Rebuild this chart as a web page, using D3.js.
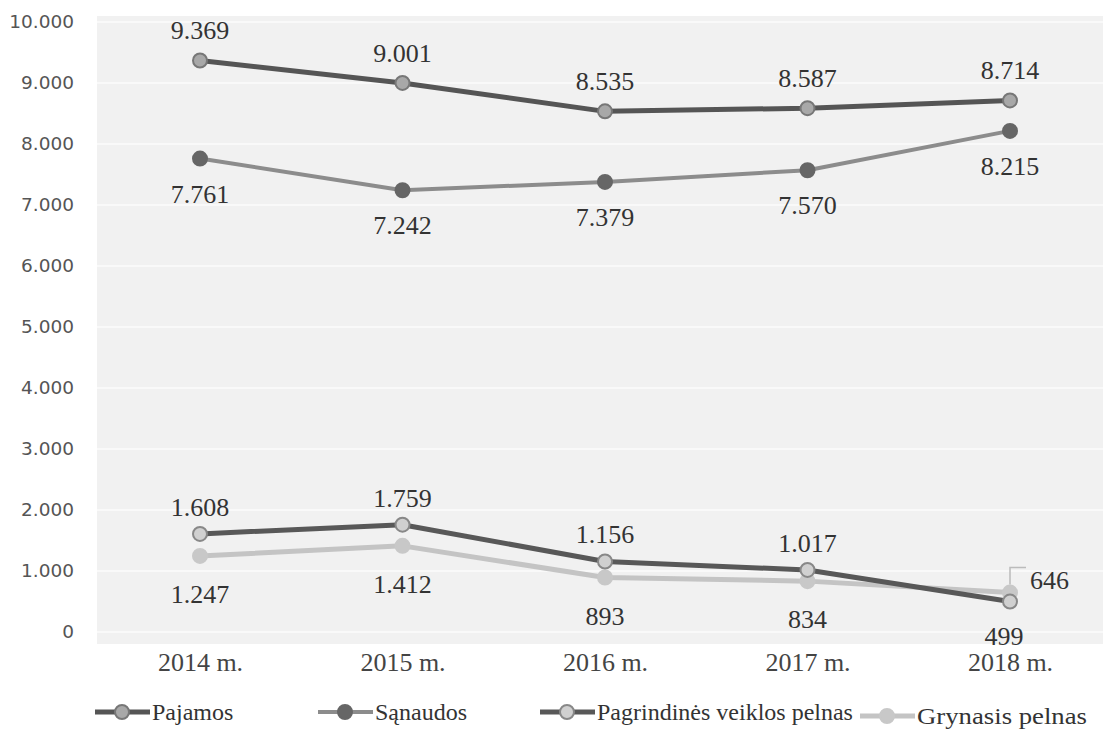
<!DOCTYPE html>
<html><head><meta charset="utf-8">
<script src="https://cdn.jsdelivr.net/npm/d3@7"></script>
<style>body{margin:0;background:#fff}svg{display:block}</style>
</head><body>
<svg id="c" width="1103" height="739"></svg>
<script>
const categories = ["2014 m.","2015 m.","2016 m.","2017 m.","2018 m."];
const pajamos = [9369, 9001, 8535, 8587, 8714];
const sanaudos = [7761, 7242, 7379, 7570, 8215];
const pagrindines = [1608, 1759, 1156, 1017, 499];
const grynasis = [1247, 1412, 893, 834, 646];
const yTicks = [0,1000,2000,3000,4000,5000,6000,7000,8000,9000,10000];
const seriesNames = ["Pajamos","Sąnaudos","Pagrindinės veiklos pelnas","Grynasis pelnas"];

const SERIF = "'Liberation Serif', 'Times New Roman', serif";
const SANS = "'DejaVu Sans', Verdana, sans-serif";
const fmt = v => { const s = String(v); return s.length > 3 ? s.slice(0, s.length-3) + "." + s.slice(-3) : s; };

const svg = d3.select("#c");
const x = d3.scalePoint().domain(categories).range([200, 1010]);
const y = d3.scaleLinear().domain([0, 10000]).range([632, 22]);

svg.append("rect").attr("x", 97).attr("y", 16).attr("width", 1006).attr("height", 628).attr("fill", "#f1f1f1");
svg.append("g").selectAll("line").data(yTicks).join("line")
  .attr("x1", 97).attr("x2", 1103).attr("y1", d => y(d)).attr("y2", d => y(d))
  .attr("stroke", "#f9f9f9").attr("stroke-width", 2);

const yAxis = d3.axisLeft(y).tickValues(yTicks).tickFormat(fmt).tickSize(0).tickPadding(0);
const ya = svg.append("g").attr("transform", "translate(74,0)").call(yAxis);
ya.select(".domain").remove();
ya.selectAll("text").style("font-family", SANS).style("font-size", "18.5px").attr("fill", "#555");

const xAxis = d3.axisBottom(x).tickSize(0).tickPadding(0);
const xa = svg.append("g").attr("transform", "translate(0,653)").call(xAxis);
xa.select(".domain").remove();
xa.selectAll("text").style("font-family", SERIF).style("font-size", "26px").attr("fill", "#444");

const series = [
  {name: seriesNames[0], data: pajamos, line: "#555", lw: 5, mfill: "#a8a8a8", mstroke: "#777", pos: "above"},
  {name: seriesNames[1], data: sanaudos, line: "#8c8c8c", lw: 4, mfill: "#666", mstroke: "#666", pos: "below"},
  {name: seriesNames[2], data: pagrindines, line: "#585858", lw: 5, mfill: "#d0d0d0", mstroke: "#888", pos: "above"},
  {name: seriesNames[3], data: grynasis, line: "#c4c4c4", lw: 5, mfill: "#c8c8c8", mstroke: "#c8c8c8", pos: "below"}
];

const line = d3.line().x((d,i) => x(categories[i])).y(d => y(d));
const drawOrder = [3,1,0,2];
drawOrder.forEach(si => {
  const s = series[si];
  svg.append("path").datum(s.data).attr("d", line).attr("fill", "none")
    .attr("stroke", s.line).attr("stroke-width", s.lw).attr("stroke-linejoin", "round");
});
drawOrder.forEach(si => {
  const s = series[si];
  svg.append("g").selectAll("circle").data(s.data).join("circle")
    .attr("cx", (d,i) => x(categories[i])).attr("cy", d => y(d)).attr("r", 7)
    .attr("fill", s.mfill).attr("stroke", s.mstroke).attr("stroke-width", 2);
});

// data labels
const lab = svg.append("g");
series.forEach((s, si) => {
  s.data.forEach((v, i) => {
    let tx = x(categories[i]), ty;
    if (s.pos === "above") ty = y(v) - (si === 0 ? 21 : 18);
    else ty = y(v) + (si === 1 ? 44 : 47);
    let anchor = "middle";
    if (si === 3 && i === 4) { tx = x(categories[i]) + 20; ty = y(v) - 4; anchor = "start"; }
    if (si === 2 && i === 4) { tx = x(categories[i]) - 6; ty = y(v) + 43; }
    lab.append("text").attr("x", tx).attr("y", ty).attr("text-anchor", anchor)
      .style("font-family", SERIF).style("font-size", "26px").attr("fill", "#333").text(fmt(v));
  });
});
// leader line for 646
const gx = x(categories[4]), gy = y(grynasis[4]);
svg.append("path").attr("d", `M${gx},${gy-8}V${gy-25}H${gx+16}`).attr("fill", "none")
  .attr("stroke", "#bbb").attr("stroke-width", 1.5);

// legend
const legX = [95, 318, 540, 860];
const legY = [712, 712, 712, 716];
const lg = svg.append("g");
series.forEach((s, i) => {
  const g = lg.append("g").attr("transform", `translate(${legX[i]},${legY[i]})`);
  g.append("line").attr("x1", 0).attr("x2", 55).attr("y1", 0).attr("y2", 0)
    .attr("stroke", s.line).attr("stroke-width", s.lw);
  g.append("circle").attr("cx", 27).attr("cy", 0).attr("r", 7)
    .attr("fill", s.mfill).attr("stroke", s.mstroke).attr("stroke-width", 2);
  const t = g.append("text").attr("x", 57).attr("y", 8)
    .style("font-family", SERIF).style("font-size", "24px").attr("fill", "#333").text(s.name);
  if (i === 3) t.attr("textLength", 170).attr("lengthAdjust", "spacingAndGlyphs");
});
</script>
</body></html>
